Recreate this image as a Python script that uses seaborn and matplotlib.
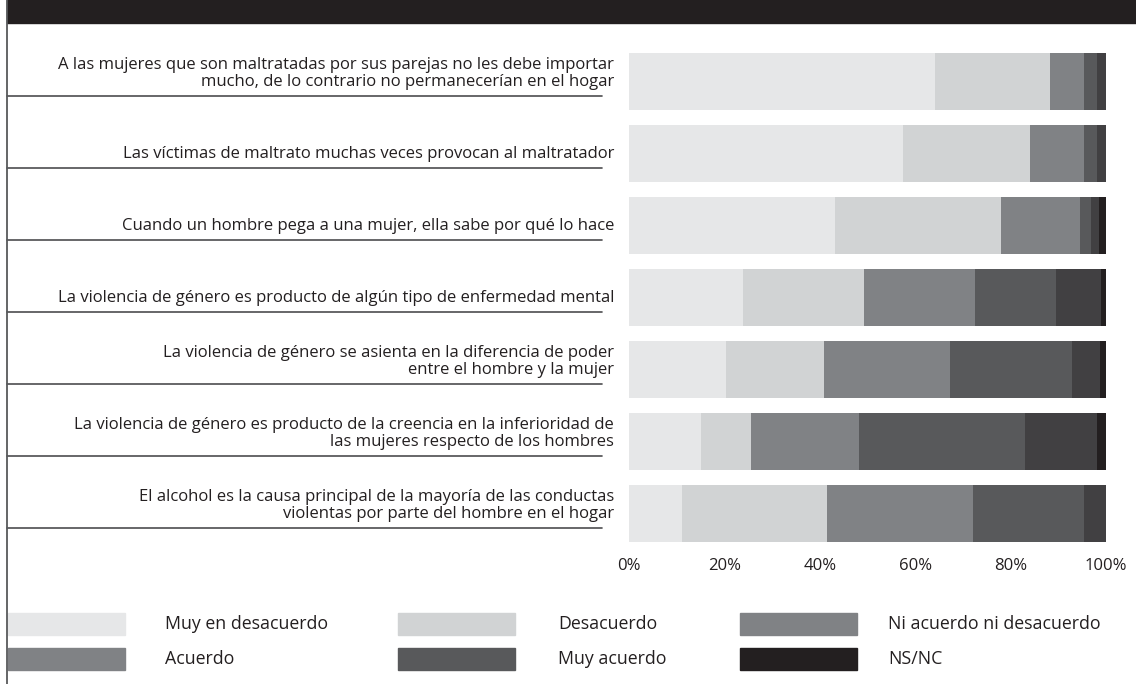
import numpy as np
import pandas as pd
import matplotlib
matplotlib.use("Agg")
import matplotlib.pyplot as plt
import matplotlib.transforms as mtransforms
from matplotlib.patches import Rectangle
import seaborn as sns

# ==============================
# Data (percent of answers per statement)
# ==============================
statements = [
    "A las mujeres que son maltratadas por sus parejas no les debe importar\nmucho, de lo contrario no permanecerían en el hogar",
    "Las víctimas de maltrato muchas veces provocan al maltratador",
    "Cuando un hombre pega a una mujer, ella sabe por qué lo hace",
    "La violencia de género es producto de algún tipo de enfermedad mental",
    "La violencia de género se asienta en la diferencia de poder\nentre el hombre y la mujer",
    "La violencia de género es producto de la creencia en la inferioridad de\nlas mujeres respecto de los hombres",
    "El alcohol es la causa principal de la mayoría de las conductas\nviolentas por parte del hombre en el hogar",
]

muy_desacuerdo = [64.2, 57.4, 43.2, 23.9, 20.3, 15.1, 11.1]
desacuerdo     = [24.1, 26.7, 34.8, 25.4, 20.6, 10.5, 30.4]
ni_ni          = [7.1, 11.3, 16.5, 23.2, 26.4, 22.6, 30.6]
acuerdo        = [2.7, 2.7, 2.4, 17.0, 25.6, 34.8, 23.3]
muy_acuerdo    = [1.9, 1.9, 1.6, 9.5, 5.8, 15.1, 4.6]
ns_nc          = [0.0, 0.0, 1.5, 1.0, 1.3, 1.9, 0.0]

categories = ["Muy en desacuerdo", "Desacuerdo", "Ni acuerdo ni desacuerdo",
              "Acuerdo", "Muy acuerdo", "NS/NC"]
bar_colors = ["#e6e7e8", "#d1d3d4", "#808285", "#58595b", "#414042", "#231f20"]
# swatches as printed in the original legend
legend_colors = ["#e6e7e8", "#d1d3d4", "#808285", "#808285", "#58595b", "#231f20"]

xticks = [0, 20, 40, 60, 80, 100]

# ==============================
# Build table
# ==============================
df = pd.DataFrame({
    "statement": statements,
    categories[0]: muy_desacuerdo,
    categories[1]: desacuerdo,
    categories[2]: ni_ni,
    categories[3]: acuerdo,
    categories[4]: muy_acuerdo,
    categories[5]: ns_nc,
})
cum = df[categories].cumsum(axis=1)

sns.set_style("white")
plt.rcParams["font.family"] = ["Open Sans", "DejaVu Sans"]
TXT = "#231f20"

fig = plt.figure(figsize=(11.36, 6.84), dpi=100)
ax = fig.add_axes([629 / 1136, 1 - 549.5 / 684, 477 / 1136, 504 / 684])

# stacked bars: draw cumulative totals from the largest to the smallest
for cat, color in reversed(list(zip(categories, bar_colors))):
    sns.barplot(x=cum[cat], y=df["statement"], orient="h", color=color,
                width=0.79, saturation=1, linewidth=0, ax=ax)

ax.set_xlim(0, 100)
ax.set_ylim(6.5, -0.5)
ax.set_xticks(xticks)
ax.set_xticklabels([f"{t}%" for t in xticks], fontsize=12, color=TXT)
ax.set_yticks([])
ax.set_xlabel("")
ax.set_ylabel("")
ax.tick_params(axis="x", length=0, pad=6)
for s in ax.spines.values():
    s.set_visible(False)

# statement labels with underlines
blend = mtransforms.blended_transform_factory(fig.transFigure, ax.transData)
for i, label in enumerate(statements):
    ax.text(614 / 1136, i + 0.12, label, transform=blend, ha="right", va="bottom",
            multialignment="right", fontsize=12, color=TXT, linespacing=1.12)
    ax.plot([7 / 1136, 602 / 1136], [i + 0.2, i + 0.2], transform=blend,
            color="#4d4d4f", lw=1.2, clip_on=False)

# title band and left frame line
fig.patches.append(Rectangle((7 / 1136, 1 - 23 / 684), 1, 23 / 684,
                             transform=fig.transFigure, color="#231f20", zorder=0))
fig.add_artist(plt.Line2D([7 / 1136, 7 / 1136], [0, 1], transform=fig.transFigure,
                          color="#58595b", lw=1.3))

# legend (two rows of three)
sw_x = [8, 398, 740]
tx_x = [165, 558, 888]
row_y = [613, 648]
for k, (cat, color) in enumerate(zip(categories, legend_colors)):
    r, c = divmod(k, 3)
    y0 = 1 - (row_y[r] + 22) / 684
    fig.patches.append(Rectangle((sw_x[c] / 1136, y0), 117 / 1136, 22 / 684,
                                 transform=fig.transFigure, color=color))
    fig.text(tx_x[c] / 1136, y0 + 11 / 684, cat, ha="left", va="center",
             fontsize=12.8, color=TXT)

fig.savefig("out.png", dpi=100)
